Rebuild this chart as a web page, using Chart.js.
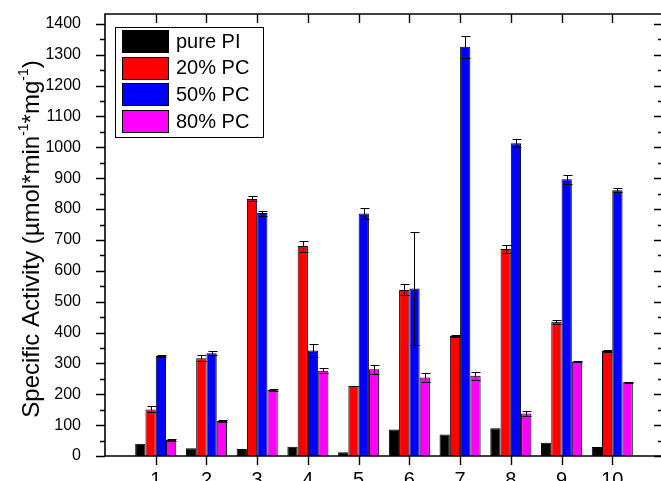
<!DOCTYPE html>
<html><head><meta charset="utf-8">
<script src="https://cdn.jsdelivr.net/npm/chart.js@4.4.0/dist/chart.umd.min.js"></script>
<style>html,body{margin:0;padding:0;overflow:hidden;background:#fff;width:661px;height:481px}
#wrap{width:664px;height:481px}</style></head><body>
<div id="wrap"><canvas id="c" width="664" height="481"></canvas></div>
<script>
const categories = ['1','2','3','4','5','6','7','8','9','10'];
const seriesNames = ['pure PI','20% PC','50% PC','80% PC'];
const seriesColors = ['#000000','#FF0000','#0000FF','#FF00FF'];
const purePI = [40, 25, 23, 30, 12, 86, 70, 90, 43, 29];
const pc20   = [151, 317, 833, 680, 227, 538, 389, 671, 435, 340];
const pc50   = [324, 333, 787, 342, 786, 543, 1326, 1013, 897, 861];
const pc80   = [52, 113, 214, 276, 281, 254, 260, 138, 306, 239];
const errPurePI = [0, 0, 0, 0, 0, 0, 0, 0, 0, 0];
const err20  = [10, 10, 8, 18, 1, 18, 3, 12, 7, 3];
const err50  = [2, 7, 8, 20, 18, 182, 36, 13, 15, 7];
const err80  = [2, 3, 3, 8, 14, 14, 13, 9, 3, 2];
const yTicks = [0,100,200,300,400,500,600,700,800,900,1000,1100,1200,1300,1400];
const yMinorStep = 50;

const values = [purePI, pc20, pc50, pc80];
const errors = [errPurePI, err20, err50, err80];
const pad = arr => [null, ...arr, null];
const labels = ['', ...categories, ''];

const FONT = '"Liberation Sans", Arial, sans-serif';

const framePlugin = {
  id: 'frame',
  afterDatasetsDraw(chart) {
    const {ctx, scales: {y}} = chart;
    ctx.save();
    ctx.strokeStyle = '#000'; ctx.lineWidth = 1;
    chart.data.datasets.forEach((ds, i) => {
      const meta = chart.getDatasetMeta(i);
      meta.data.forEach((el, j) => {
        const v = ds.data[j]; const e = ds.errors[j];
        if (v == null || !e) return;
        const cx = Math.round(el.x) + 0.5;
        const yt = Math.round(y.getPixelForValue(v + e)) + 0.5;
        const yb = Math.round(y.getPixelForValue(v - e)) + 0.5;
        ctx.beginPath();
        ctx.moveTo(cx, yt); ctx.lineTo(cx, yb);
        ctx.moveTo(cx - 4, yt); ctx.lineTo(cx + 5, yt);
        ctx.moveTo(cx - 4, yb); ctx.lineTo(cx + 5, yb);
        ctx.stroke();
      });
    });
    ctx.restore();
  },
  afterDraw(chart) {
    const {ctx, chartArea: a, scales: {x, y}} = chart;
    ctx.save();
    ctx.strokeStyle = '#000';
    ctx.lineWidth = 1.6;
    const L = a.left, R = a.right, T = a.top, B = a.bottom;
    ctx.beginPath();
    ctx.moveTo(L, T); ctx.lineTo(R, T); ctx.lineTo(R, B); ctx.lineTo(L, B); ctx.closePath();
    ctx.stroke();
    ctx.lineWidth = 1.4;
    ctx.beginPath();
    for (let v = 0; v <= y.max; v += yMinorStep) {
      const py = Math.round(y.getPixelForValue(v)) + 0.5;
      const major = v % 100 === 0;
      const len = major ? 9 : 5;
      ctx.moveTo(L - len, py); ctx.lineTo(L, py);
      ctx.moveTo(R - len, py); ctx.lineTo(R, py);
    }
    categories.forEach((c, i) => {
      const px = Math.round(x.getPixelForValue(i + 1)) + 0.5;
      ctx.moveTo(px, B); ctx.lineTo(px, B + 9);
      ctx.moveTo(px, T); ctx.lineTo(px, T + 9);
    });
    ctx.stroke();

    // legend
    const lx = 115.5, ly = 27.5, lw = 148, lh = 110;
    ctx.fillStyle = '#fff';
    ctx.fillRect(lx, ly, lw, lh);
    ctx.lineWidth = 1; ctx.strokeStyle = '#000';
    ctx.strokeRect(lx, ly, lw, lh);
    ctx.font = '20px ' + FONT;
    ctx.textBaseline = 'middle'; ctx.textAlign = 'left';
    chart.data.datasets.forEach((ds, i) => {
      const sy = 30 + i * 26.7;
      ctx.fillStyle = ds.backgroundColor;
      ctx.fillRect(122, Math.round(sy), 47, 23);
      ctx.strokeStyle = '#000';
      ctx.strokeRect(122.5, Math.round(sy) + 0.5, 46, 22);
      ctx.fillStyle = '#000';
      ctx.fillText(ds.label, 176, sy + 12);
    });

    // y title with superscripts
    const parts = [
      {t: 'Specific Activity (', s: false},
      {t: '\u00B5', s: false},
      {t: 'mol*min', s: false},
      {t: '-1', s: true},
      {t: '*mg', s: false},
      {t: '-1', s: true},
      {t: ')', s: false}
    ];
    const fs = 24, ss = 14;
    let total = 0;
    parts.forEach(p => { ctx.font = (p.s ? ss : fs) + 'px ' + FONT; p.w = ctx.measureText(p.t).width; total += p.w; });
    ctx.translate(32, (T + B) / 2 + 4);
    ctx.rotate(-Math.PI / 2);
    ctx.textBaseline = 'middle'; ctx.textAlign = 'left';
    ctx.fillStyle = '#000';
    let cx = -total / 2;
    parts.forEach(p => {
      ctx.font = (p.s ? ss : fs) + 'px ' + FONT;
      ctx.fillText(p.t, cx, p.s ? -8 : 0);
      cx += p.w;
    });
    ctx.restore();
  }
};

new Chart(document.getElementById('c'), {
  type: 'bar',
  data: {
    labels: labels,
    datasets: seriesNames.map((n, i) => ({
      label: n,
      data: pad(values[i]),
      errors: pad(errors[i]),
      backgroundColor: seriesColors[i],
      borderColor: '#000',
      borderWidth: 1,
      categoryPercentage: 0.81,
      barPercentage: 1.0
    }))
  },
  options: {
    responsive: false,
    animation: false,
    devicePixelRatio: 1,
    layout: {padding: {top: 14, right: 1, left: 0, bottom: 0}},
    plugins: {legend: {display: false}, tooltip: {enabled: false}},
    scales: {
      x: {
        type: 'category',
        offset: false,
        grid: {display: false},
        border: {display: false},
        ticks: {autoSkip: false, maxRotation: 0, color: '#000', padding: 4,
                font: {family: FONT, size: 20}},
        afterFit: s => { s.height = 25; s.paddingLeft = 0; s.paddingRight = 0; }
      },
      y: {
        min: 0, max: 1432,
        grid: {display: false},
        border: {display: false},
        ticks: {color: '#000', padding: 16, font: {family: FONT, size: 16},
                callback: v => String(v)},
        afterBuildTicks: s => { s.ticks = yTicks.map(v => ({value: v})); },
        afterFit: s => { s.width = 105; s.paddingTop = 0; s.paddingBottom = 0; }
      }
    }
  },
  plugins: [framePlugin]
});
</script></body></html>
